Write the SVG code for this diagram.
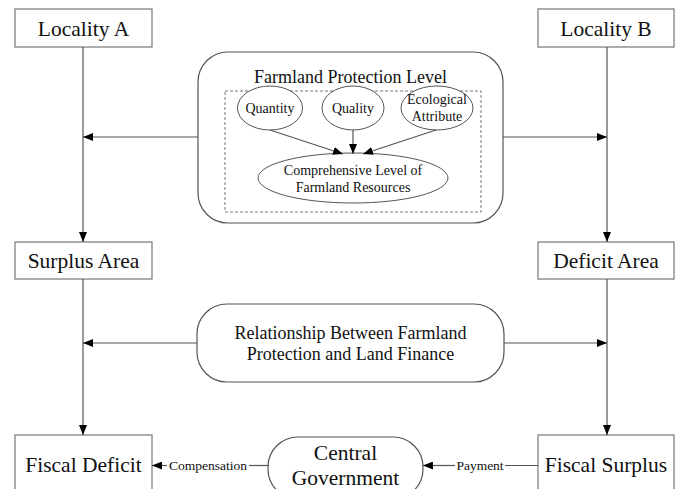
<svg xmlns="http://www.w3.org/2000/svg" width="678" height="489" viewBox="0 0 678 489">
<defs>
<marker id="ah" viewBox="0 0 10 8" refX="10" refY="4" markerWidth="10" markerHeight="8" markerUnits="userSpaceOnUse" orient="auto">
<path d="M0,0 L10,4 L0,8 Z" fill="#000"/>
</marker>
<style>
.box{fill:#fff;stroke:#777;stroke-width:1.2}
.rbox{fill:#fff;stroke:#555;stroke-width:1.2}
.ell{fill:#fff;stroke:#555;stroke-width:1}
.dash{fill:none;stroke:#777;stroke-width:1;stroke-dasharray:3,2}
.ln{fill:none;stroke:#555;stroke-width:1.2;marker-end:url(#ah)}
.pl{fill:none;stroke:#555;stroke-width:1.2}
text{fill:#111;text-anchor:middle}
.big{font-size:21.5px}
.mid{font-size:18px}
.sm{font-size:14px}
.lbl{font-size:13.5px}
</style>
</defs>
<rect width="678" height="489" fill="#fff"/>
<g font-family="'Liberation Serif', 'Times New Roman', 'DejaVu Serif', serif">
<g id="locality-a"><rect class="box" x="15" y="9" width="137" height="38"/><text class="big" x="83.5" y="35.5">Locality A</text></g>
<g id="locality-b"><rect class="box" x="538" y="9" width="136" height="38"/><text class="big" x="606" y="35.5">Locality B</text></g>
<g id="farmland-protection">
<rect class="rbox" x="198" y="52" width="305" height="171" rx="30"/>
<text class="mid" x="350.5" y="83">Farmland Protection Level</text>
<rect class="dash" x="225" y="91" width="256" height="121"/>
</g>
<g id="quantity"><ellipse class="ell" cx="270" cy="108" rx="32.5" ry="22"/><text class="sm" x="270" y="113">Quantity</text></g>
<g id="quality"><ellipse class="ell" cx="353" cy="108" rx="31" ry="22"/><text class="sm" x="353" y="113">Quality</text></g>
<g id="ecological"><ellipse class="ell" cx="437" cy="108" rx="36" ry="22"/><text class="sm" x="437" y="104">Ecological</text><text class="sm" x="437" y="121">Attribute</text></g>
<g id="comprehensive"><ellipse class="ell" cx="353" cy="178" rx="95" ry="25"/><text class="sm" x="353" y="175">Comprehensive Level of</text><text class="sm" x="353" y="192">Farmland Resources</text></g>
<g id="surplus-area"><rect class="box" x="15" y="242" width="137" height="37"/><text class="big" x="83.5" y="268">Surplus Area</text></g>
<g id="deficit-area"><rect class="box" x="538" y="242" width="136" height="37"/><text class="big" x="606" y="268">Deficit Area</text></g>
<g id="relationship"><rect class="rbox" x="197" y="304" width="307" height="78" rx="30"/><text class="mid" x="350.5" y="339">Relationship Between Farmland</text><text class="mid" x="350.5" y="360">Protection and Land Finance</text></g>
<g id="fiscal-deficit"><rect class="box" x="15" y="435" width="137" height="60"/><text class="big" x="83.5" y="472">Fiscal Deficit</text></g>
<g id="fiscal-surplus"><rect class="box" x="538" y="435" width="136" height="60"/><text class="big" x="606" y="472">Fiscal Surplus</text></g>
<g id="central-government"><rect class="rbox" x="268" y="437" width="155" height="62" rx="30"/><text class="big" x="345.5" y="460">Central</text><text class="big" x="345.5" y="485">Government</text></g>
<g id="connectors">
<line class="ln" x1="83" y1="47" x2="83" y2="242"/>
<line class="ln" x1="83" y1="279" x2="83" y2="435"/>
<line class="ln" x1="607" y1="47" x2="607" y2="242"/>
<line class="ln" x1="607" y1="279" x2="607" y2="435"/>
<line class="ln" x1="198" y1="137" x2="83" y2="137"/>
<line class="ln" x1="503" y1="137" x2="607" y2="137"/>
<line class="ln" x1="197" y1="343" x2="83" y2="343"/>
<line class="ln" x1="504" y1="343" x2="607" y2="343"/>
<line class="pl" x1="249" y1="465.5" x2="268" y2="465.5"/>
<line class="ln" x1="167" y1="465.5" x2="152" y2="465.5"/>
<line class="pl" x1="505" y1="465.5" x2="538" y2="465.5"/>
<line class="ln" x1="455" y1="465.5" x2="423" y2="465.5"/>
<line class="ln" x1="270" y1="130" x2="343" y2="154"/>
<line class="ln" x1="353" y1="130" x2="353" y2="154"/>
<line class="ln" x1="436" y1="130" x2="363" y2="154"/>
<text class="lbl" x="208" y="470">Compensation</text>
<text class="lbl" x="480" y="470">Payment</text>
</g>
</g>
</svg>
